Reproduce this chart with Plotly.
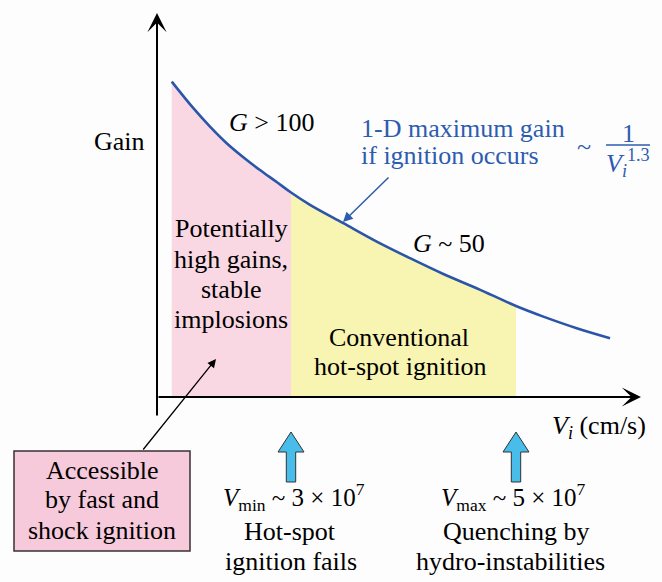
import plotly.graph_objects as go

W, H = 662, 582

# ---- data -----------------------------------------------------------------
# implosion velocity V_i in units of 1e7 cm/s, gain in arbitrary units
v_curve = [1.940, 2.132, 2.280, 2.428, 2.576, 2.724, 2.873, 3.000, 3.169, 3.465,
           3.762, 4.058, 4.354, 4.650, 5.000, 5.243, 5.540, 5.836]
g_curve = [157.7, 144.4, 135.2, 126.9, 119.9, 113.5, 107.5, 102.25, 96.1, 86.9,
           77.7, 69.4, 61.5, 54.4, 45.5, 40.2, 34.4, 29.4]
V_MIN = 3.0   # hot-spot ignition fails below
V_MAX = 5.0   # quenching by hydro-instabilities above

# ---- styles ------------------------------------------------------------------
FONT = "Liberation Serif"
FS = 26
BLUE_LINE = "#2b55a8"
BLUE_TEXT = "#2d5cae"
PINK = "#f9d8e4"
PINK_BOX = "#f6cadb"
YELLOW = "#f8f4b2"
CYAN = "#48bde9"

# axis geometry (data units)
X_RANGE = [(0 + 46.5) / 112.5, (W + 46.5) / 112.5]
Y_RANGE = [(397 - H) / 2.0, (397 - 0) / 2.0]
AX_V0 = (157 + 46.5) / 112.5
AX_V1 = (641 + 46.5) / 112.5
AX_G0 = (397 - 417) / 2.0
AX_G1 = (397 - 13) / 2.0

pink_v = [v for v in v_curve if v <= V_MIN]
pink_g = [g for v, g in zip(v_curve, g_curve) if v <= V_MIN]
yel_v = [v for v in v_curve if V_MIN <= v <= V_MAX]
yel_g = [g for v, g in zip(v_curve, g_curve) if V_MIN <= v <= V_MAX]

fig = go.Figure()
fig.add_trace(go.Scatter(x=pink_v, y=pink_g, mode="lines", fill="tozeroy",
                         fillcolor=PINK, line=dict(width=0, shape="spline"),
                         hoverinfo="skip"))
fig.add_trace(go.Scatter(x=yel_v, y=yel_g, mode="lines", fill="tozeroy",
                         fillcolor=YELLOW, line=dict(width=0, shape="spline"),
                         hoverinfo="skip"))
fig.add_trace(go.Scatter(x=v_curve, y=g_curve, mode="lines",
                         line=dict(color=BLUE_LINE, width=2.6, shape="spline"),
                         hoverinfo="skip"))


def px(x):
    return x / W


def py(y):
    return 1 - y / H


ann = []


def txt(s, x, y, color="black", xanchor="center", size=FS):
    ann.append(dict(text=s, x=px(x), y=py(y), xref="paper", yref="paper",
                    xanchor=xanchor, yanchor="middle", showarrow=False,
                    font=dict(family=FONT, size=size, color=color)))


# texts
txt("Gain", 147, 141, xanchor="right")
txt("<i>G</i> &gt; 100", 271, 122)
txt("1-D maximum gain", 359, 128, color=BLUE_TEXT, xanchor="left")
txt("if ignition occurs", 359, 156, color=BLUE_TEXT, xanchor="left")
txt("~", 584, 146, color=BLUE_TEXT)
txt("1", 628, 134, color=BLUE_TEXT)
txt("<i>V</i><sub><i>i</i></sub><sup>1.3</sup>", 604, 163, color=BLUE_TEXT, xanchor="left")
txt("<i>G</i> ~ 50", 449, 243)
for s, y in [("Potentially", 229), ("high gains,", 259), ("stable", 289), ("implosions", 319)]:
    txt(s, 231, y)
txt("Conventional", 399, 337)
txt("hot-spot ignition", 400, 366)
for s, y in [("Accessible", 470), ("by fast and", 500), ("shock ignition", 530)]:
    txt(s, 102, y)
txt("<i>V</i><sub>min</sub> ~ 3 × 10<sup>7</sup>", 294, 497, size=25)
txt("Hot-spot", 290, 531)
txt("ignition fails", 291, 561)
txt("<i>V</i><sub>max</sub> ~ 5 × 10<sup>7</sup>", 513, 497, size=25)
txt("Quenching by", 516, 531)
txt("hydro-instabilities", 511, 561)
txt("<i>V</i><sub><i>i</i></sub> (cm/s)", 648, 427, xanchor="right")

# axes arrows
ann.append(dict(text="", x=AX_V0, y=AX_G1, ax=AX_V0, ay=AX_G0, xref="x", yref="y",
                axref="x", ayref="y", showarrow=True, arrowhead=3, arrowwidth=2,
                arrowsize=1.6, arrowcolor="black", standoff=0))
ann.append(dict(text="", x=AX_V1, y=0, ax=AX_V0, ay=0, xref="x", yref="y",
                axref="x", ayref="y", showarrow=True, arrowhead=3, arrowwidth=2,
                arrowsize=1.6, arrowcolor="black", standoff=0))

# pointer arrows
ann.append(dict(text="", x=px(343), y=py(222), xref="paper", yref="paper",
                ax=47, ay=-46, showarrow=True, arrowhead=2, arrowwidth=1.5,
                arrowsize=1.3, arrowcolor=BLUE_TEXT, standoff=0))
ann.append(dict(text="", x=px(216), y=py(359), xref="paper", yref="paper",
                ax=-74, ay=92, showarrow=True, arrowhead=2, arrowwidth=1.3,
                arrowsize=1.3, arrowcolor="black", standoff=0))

shapes = []
# box for "Accessible ..."
shapes.append(dict(type="rect", xref="paper", yref="paper", x0=px(14), x1=px(190),
                   y0=py(551), y1=py(451), fillcolor=PINK_BOX,
                   line=dict(color="#3a3035", width=1.5), layer="below"))
# fraction bar
shapes.append(dict(type="line", xref="paper", yref="paper", x0=px(606), x1=px(650),
                   y0=py(145), y1=py(145), line=dict(color=BLUE_TEXT, width=1.5)))
# block arrows at V_min and V_max
arrow_path = "M0,-35 L13,-55 L4.7,-55 L4.7,-85 L-4.7,-85 L-4.7,-55 L-13,-55 Z"
for v in (V_MIN, V_MAX):
    shapes.append(dict(type="path", xref="x", yref="y", xsizemode="pixel",
                       ysizemode="pixel", xanchor=v, yanchor=0, path=arrow_path,
                       fillcolor=CYAN, line=dict(color="#333333", width=1)))

fig.update_layout(
    width=W, height=H, margin=dict(l=0, r=0, t=0, b=0),
    paper_bgcolor="#fdfdfe", plot_bgcolor="#fdfdfe",
    font=dict(family=FONT, size=FS),
    showlegend=False, hovermode=False,
    xaxis=dict(range=X_RANGE, visible=False, fixedrange=True),
    yaxis=dict(range=Y_RANGE, visible=False, fixedrange=True),
    annotations=ann, shapes=shapes,
)

fig.write_html("out.html")
